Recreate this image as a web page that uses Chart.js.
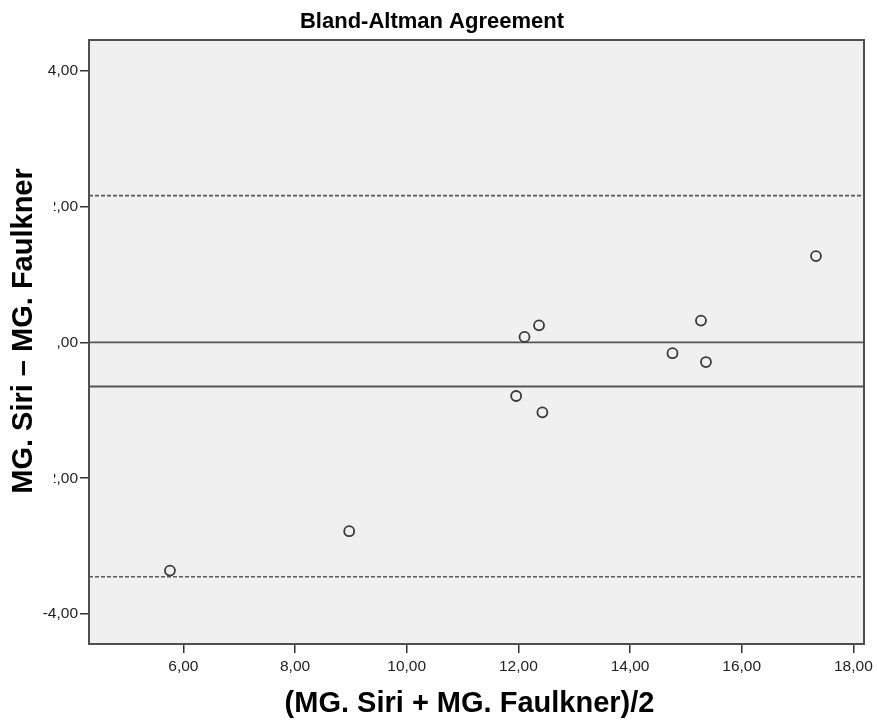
<!DOCTYPE html>
<html>
<head>
<meta charset="utf-8">
<script src="https://cdn.jsdelivr.net/npm/chart.js@4/dist/chart.umd.min.js"></script>
<style>
  html, body { margin: 0; padding: 0; background: #ffffff; }
  canvas { display: block; }
</style>
</head>
<body>
<canvas id="chart" width="877" height="724"></canvas>
<script>
// ---- data ----
const meanValues = [17.33, 12.37, 12.11, 15.27, 14.76, 15.36, 11.96, 12.43, 8.97, 5.76];
const diffValues = [1.27, 0.25, 0.08, 0.32, -0.16, -0.29, -0.79, -1.03, -2.78, -3.36];
const meanDifference = -0.65;
const upperLimit = 2.16;
const lowerLimit = -3.45;
const zeroReference = 0;

const xTickValues = [6, 8, 10, 12, 14, 16, 18];
const xTickLabels = ['6,00', '8,00', '10,00', '12,00', '14,00', '16,00', '18,00'];
const yTickValues = [-4, -2, 0, 2, 4];
const yTickLabels = ['-4,00', '-2,00', ',00', '2,00', '4,00'];

const xRange = [4.31, 18.19];
const yRange = [-4.44, 4.45];

const chartTitle = 'Bland-Altman Agreement';
const xTitle = '(MG. Siri + MG. Faulkner)/2';
const yTitle = 'MG. Siri \u2013 MG. Faulkner';

// ---- build datasets ----
const FONT = "'Liberation Sans', Arial, Helvetica, sans-serif";
const points = meanValues.map((m, i) => ({ x: m, y: diffValues[i] }));
const hLine = (v) => [{ x: xRange[0], y: v }, { x: xRange[1], y: v }];

const lineStyle = (v, dashed) => ({
  type: 'line',
  data: hLine(v),
  borderColor: dashed ? '#5a5a5a' : '#555555',
  borderWidth: dashed ? 1.6 : 1.8,
  borderDash: dashed ? [4, 2] : [],
  pointRadius: 0,
  fill: false,
  tension: 0
});

const framePlugin = {
  id: 'frame',
  beforeDraw(chart) {
    const { ctx, chartArea: a } = chart;
    ctx.save();
    ctx.fillStyle = '#ffffff';
    ctx.fillRect(0, 0, chart.width, chart.height);
    ctx.fillStyle = '#f0f0f0';
    ctx.fillRect(a.left, a.top, a.right - a.left, a.bottom - a.top);
    ctx.restore();
    const ys = chart.scales.y;
    if (ys && !ys.__wrapped) {
      const orig = ys.drawTitle;
      ys.drawTitle = function () {
        const c = this.ctx;
        c.save();
        c.fillStyle = '#ffffff';
        c.fillRect(0, 120, 54, 440);
        c.restore();
        c.save();
        c.translate(0, -11);
        orig.call(this);
        c.restore();
      };
      ys.__wrapped = true;
    }
    const xs = chart.scales.x;
    if (xs && !xs.__wrapped) {
      const origX = xs.drawTitle;
      xs.drawTitle = function () {
        const c = this.ctx;
        c.save();
        c.translate(-7, 0);
        origX.call(this);
        c.restore();
      };
      xs.__wrapped = true;
    }
  },
  afterDraw(chart) {
    const { ctx, chartArea: a } = chart;
    ctx.save();
    ctx.strokeStyle = '#505050';
    ctx.lineWidth = 2;
    ctx.strokeRect(a.left, a.top, a.right - a.left, a.bottom - a.top);
    ctx.restore();
  }
};

new Chart(document.getElementById('chart'), {
  type: 'scatter',
  data: {
    datasets: [
      {
        label: 'Differences',
        data: points,
        pointStyle: 'circle',
        pointRadius: 5,
        pointBorderWidth: 1.8,
        pointBorderColor: '#3a3a3a',
        pointBackgroundColor: 'rgba(0,0,0,0)',
        showLine: false
      },
      lineStyle(zeroReference, false),
      lineStyle(meanDifference, false),
      lineStyle(upperLimit, true),
      lineStyle(lowerLimit, true)
    ]
  },
  options: {
    responsive: false,
    animation: false,
    devicePixelRatio: 1,
    layout: { padding: { top: 0, right: 13, bottom: 0, left: 0 } },
    plugins: {
      legend: { display: false },
      tooltip: { enabled: false },
      title: {
        display: true,
        text: chartTitle,
        color: '#000000',
        font: { family: FONT, size: 22, weight: 'bold', lineHeight: 1.2 },
        padding: { top: 9, bottom: 4.6 }
      }
    },
    scales: {
      x: {
        type: 'linear',
        position: 'bottom',
        min: xRange[0],
        max: xRange[1],
        afterBuildTicks: (s) => { s.ticks = xTickValues.map(v => ({ value: v })); },
        afterFit: (s) => { s.height = 80; s.paddingLeft = 0; s.paddingRight = 0; },
        ticks: {
          includeBounds: false,
          autoSkip: false,
          maxRotation: 0,
          padding: 4.5,
          color: '#222222',
          font: { family: FONT, size: 15.5 },
          callback: (v, i) => xTickLabels[i]
        },
        grid: { display: true, drawOnChartArea: false, drawTicks: true, tickLength: 9, color: '#333333', lineWidth: 1.5 },
        border: { display: false },
        title: {
          display: true,
          text: xTitle,
          color: '#000000',
          font: { family: FONT, size: 29, weight: 'bold', lineHeight: 1.2 },
          padding: { top: 0, bottom: 2.2 }
        }
      },
      y: {
        type: 'linear',
        position: 'left',
        min: yRange[0],
        max: yRange[1],
        afterBuildTicks: (s) => { s.ticks = yTickValues.map(v => ({ value: v })); },
        afterFit: (s) => { s.width = 89; s.paddingTop = 0; s.paddingBottom = 0; },
        ticks: {
          z: -2,
          includeBounds: false,
          autoSkip: false,
          padding: 2,
          color: '#222222',
          font: { family: FONT, size: 15.5 },
          callback: (v, i) => yTickLabels[i]
        },
        grid: { display: true, drawOnChartArea: false, drawTicks: true, tickLength: 9, color: '#333333', lineWidth: 1.5 },
        border: { display: false },
        title: {
          display: true,
          text: yTitle,
          color: '#000000',
          font: { family: FONT, size: 29, weight: 'bold', lineHeight: 1.2 },
          padding: { top: 7, bottom: 0 }
        }
      }
    }
  },
  plugins: [framePlugin]
});
</script>
</body>
</html>
